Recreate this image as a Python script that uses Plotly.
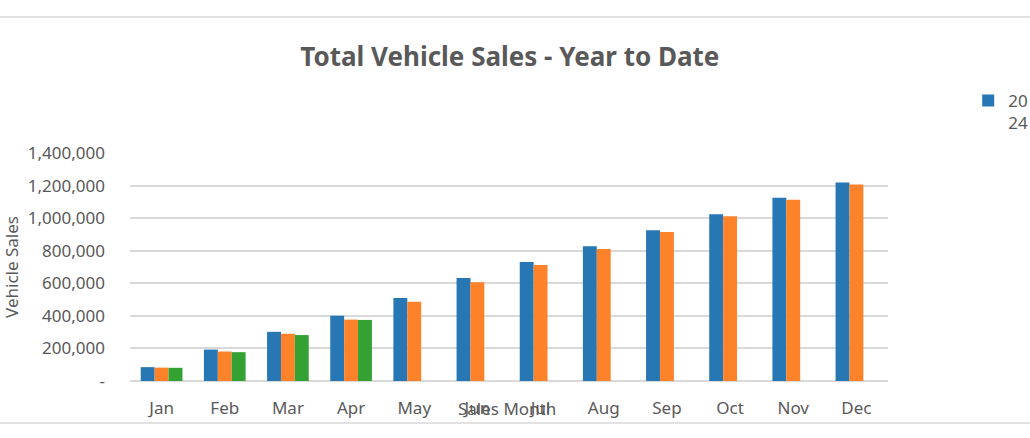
import plotly.graph_objects as go

# Data
months = ['Jan', 'Feb', 'Mar', 'Apr', 'May', 'Jun', 'Jul', 'Aug', 'Sep', 'Oct', 'Nov', 'Dec']
sales_2024 = [85000, 193000, 302000, 401000, 510000, 633000, 731000, 827000, 925000, 1024000, 1125000, 1219000]
sales_2023 = [82000, 181000, 290000, 377000, 486000, 606000, 713000, 811000, 915000, 1012000, 1113000, 1207000]
sales_2025 = [81000, 177000, 282000, 375000, None, None, None, None, None, None, None, None]

y_ticks = [0, 200000, 400000, 600000, 800000, 1000000, 1200000, 1400000]
y_labels = ['-', '200,000', '400,000', '600,000', '800,000', '1,000,000', '1,200,000', '1,400,000']

FONT = 'Noto Sans'
GREY = '#595959'
W, H = 1030, 438
ML, MR, MT, MB = 127, 142, 153, 57
plot_h = H - MT - MB


def py(px):
    # pixel row (from top) -> paper y
    return (H - MB - px) / plot_h


fig = go.Figure()

fig.add_trace(go.Bar(x=months, y=sales_2024, name='20<br>24',
                     marker=dict(color='#2677b3', line=dict(width=0))))
fig.add_trace(go.Bar(x=months, y=sales_2023, name='2023', showlegend=False,
                     marker=dict(color='#fd822a', line=dict(width=0))))
fig.add_trace(go.Bar(x=months, y=sales_2025, name='2025', showlegend=False,
                     marker=dict(color='#34a133', line=dict(width=0))))

# x axis title sits on top of the tick labels, as in the reference
fig.add_annotation(x=0.497, y=py(408), xref='paper', yref='paper', yanchor='middle',
                   text='Sales Month', showarrow=False,
                   font=dict(family=FONT, size=17, color=GREY))

# frame lines at top and bottom of the chart
for row in (17, 423):
    fig.add_shape(type='line', xref='paper', yref='paper',
                  x0=-0.2, x1=1.2, y0=py(row), y1=py(row),
                  line=dict(color='#d9d9d9', width=1.5))

fig.update_layout(
    width=W, height=H,
    barmode='group', bargap=0.34, bargroupgap=0,
    paper_bgcolor='white', plot_bgcolor='white',
    margin=dict(l=ML, r=MR, t=MT, b=MB),
    font=dict(family=FONT, color=GREY),
    title=dict(text='<b>Total Vehicle Sales - Year to Date</b>',
               x=0.495, xanchor='center', y=1 - 57 / H, yanchor='middle',
               font=dict(family=FONT, size=26, color=GREY)),
    legend=dict(xref='container', yref='container', x=0.94, y=1 - 83 / H,
                xanchor='left', yanchor='top', valign='top',
                font=dict(family=FONT, size=17, color=GREY),
                itemwidth=30, tracegroupgap=0),
    xaxis=dict(showgrid=False, showline=False, zeroline=False, ticks='',
               ticklabelstandoff=15,
               tickfont=dict(family=FONT, size=17, color=GREY)),
    yaxis=dict(range=[0, 1400000], tickvals=y_ticks, ticktext=y_labels,
               showgrid=True, gridcolor='#d9d9d9', gridwidth=1.5,
               zeroline=True, zerolinecolor='#d9d9d9', zerolinewidth=1.5,
               showline=False, ticks='', ticklabelstandoff=24,
               tickfont=dict(family=FONT, size=17, color=GREY),
               title=dict(text='Vehicle Sales', standoff=4,
                          font=dict(family=FONT, size=17, color=GREY))),
)

fig.write_html('out.html', config={'displayModeBar': False},
               post_script="document.body.style.margin='0';")
